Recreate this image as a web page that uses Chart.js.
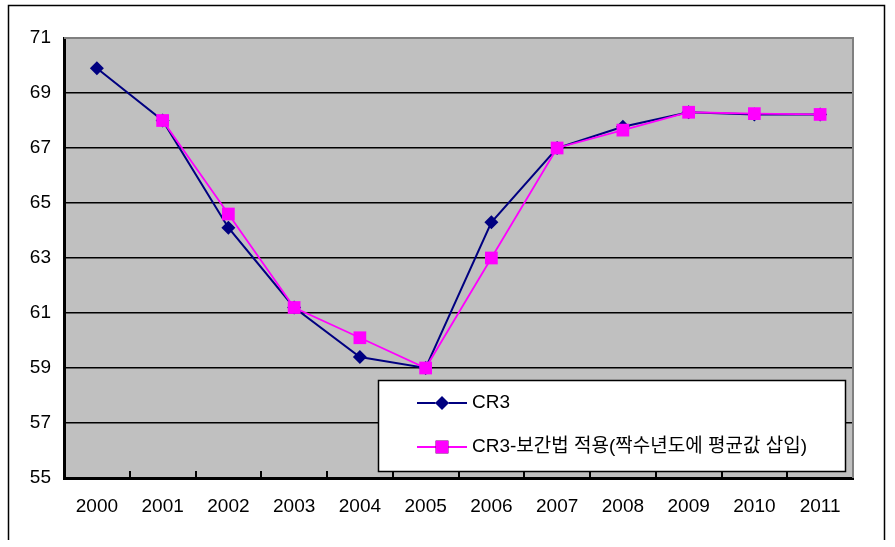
<!DOCTYPE html>
<html>
<head>
<meta charset="utf-8">
<script src="https://cdn.jsdelivr.net/npm/chart.js@4/dist/chart.umd.min.js"></script>
<style>
  html, body { margin: 0; padding: 0; background: #ffffff; }
  #wrap { position: relative; width: 895px; height: 547px; }
</style>
</head>
<body>
<div id="wrap"><canvas id="c" width="895" height="547"></canvas></div>
<script>
const years = ['2000','2001','2002','2003','2004','2005','2006','2007','2008','2009','2010','2011'];
const cr3 = [69.9, 68.0, 64.1, 61.2, 59.4, 59.0, 64.3, 67.0, 67.77, 68.3, 68.22, 68.22];
const cr3Interp = [null, 68.0, 64.6, 61.2, 60.1, 59.0, 63.0, 67.0, 67.65, 68.3, 68.25, 68.22];
const seriesNames = ['CR3', 'CR3-보간법 적용(짝수년도에 평균값 삽입)'];
const yMin = 55, yMax = 71, yStep = 2;

const FONT = "'Liberation Sans', Arial, 'Noto Sans CJK KR', sans-serif";

const framePlugin = {
  id: 'frame',
  beforeDraw(chart) {
    const {ctx, chartArea: a} = chart;
    ctx.save();
    ctx.fillStyle = '#C0C0C0';
    ctx.fillRect(a.left, a.top, a.right - a.left, a.bottom - a.top);
    ctx.strokeStyle = '#000';
    ctx.lineWidth = 1.5;
    ctx.beginPath();
    ctx.moveTo(8.5, 540);
    ctx.lineTo(8.5, 5.5);
    ctx.lineTo(884.5, 5.5);
    ctx.lineTo(884.5, 540);
    ctx.stroke();
    ctx.restore();
  },
  afterDraw(chart) {
    const {ctx, chartArea: a} = chart;
    const xs = chart.scales.x;
    ctx.save();
    ctx.strokeStyle = '#808080';
    ctx.lineWidth = 2;
    ctx.beginPath();
    ctx.moveTo(a.left, a.top);
    ctx.lineTo(a.right, a.top);
    ctx.lineTo(a.right, a.bottom);
    ctx.stroke();
    ctx.strokeStyle = '#000';
    ctx.lineWidth = 2;
    const n = years.length;
    for (let i = 1; i < n; i++) {
      const x = Math.round((xs.getPixelForTick(i - 1) + xs.getPixelForTick(i)) / 2);
      ctx.beginPath();
      ctx.moveTo(x, a.bottom);
      ctx.lineTo(x, a.bottom - 7);
      ctx.stroke();
    }
    const lx = a.left + 314, ly = a.top + 342, lw = 467, lh = 91;
    ctx.fillStyle = '#fff';
    ctx.fillRect(lx, ly, lw, lh);
    ctx.strokeStyle = '#000';
    ctx.lineWidth = 1.5;
    ctx.strokeRect(lx + 0.5, ly + 0.5, lw, lh);
    const rows = [ly + 23, ly + 67];
    chart.data.datasets.forEach((ds, i) => {
      const y = rows[i];
      ctx.strokeStyle = ds.borderColor;
      ctx.lineWidth = ds.borderWidth;
      ctx.beginPath();
      ctx.moveTo(lx + 39, y);
      ctx.lineTo(lx + 89, y);
      ctx.stroke();
      Chart.helpers.drawPoint(ctx, {pointStyle: ds.pointStyle, radius: ds.pointRadius, borderWidth: 0, rotation: 0}, lx + 64, y);
      ctx.fillStyle = ds.pointBackgroundColor;
      ctx.fill();
      ctx.fillStyle = '#000';
      ctx.font = '19px ' + FONT;
      ctx.textBaseline = 'middle';
      ctx.textAlign = 'left';
      ctx.fillText(ds.label, lx + 94, y);
    });
    ctx.restore();
  }
};

new Chart(document.getElementById('c'), {
  type: 'line',
  data: {
    labels: years,
    datasets: [
      {
        label: seriesNames[0],
        data: cr3,
        borderColor: '#000080',
        backgroundColor: '#000080',
        pointBackgroundColor: '#000080',
        pointBorderColor: '#000080',
        borderWidth: 2,
        pointStyle: 'rectRot',
        pointRadius: 7,
        pointBorderWidth: 0,
        tension: 0,
        order: 1
      },
      {
        label: seriesNames[1],
        data: cr3Interp,
        borderColor: '#FF00FF',
        backgroundColor: '#FF00FF',
        pointBackgroundColor: '#FF00FF',
        pointBorderColor: '#FF00FF',
        borderWidth: 1.8,
        pointStyle: 'rect',
        pointRadius: 9,
        pointBorderWidth: 0,
        tension: 0,
        spanGaps: false,
        order: 0
      }
    ]
  },
  options: {
    responsive: false,
    animation: false,
    devicePixelRatio: 1,
    layout: { padding: { left: 0, top: 38, right: 42, bottom: 0 } },
    plugins: { legend: { display: false }, tooltip: { enabled: false }, title: { display: false } },
    scales: {
      x: {
        type: 'category',
        offset: true,
        grid: { display: false, drawTicks: false },
        border: { display: true, color: '#000', width: 3 },
        ticks: { color: '#000', font: { family: FONT, size: 19 }, padding: 17, maxRotation: 0, autoSkip: false },
        afterFit(s) { s.height = 69; }
      },
      y: {
        min: yMin, max: yMax,
        grid: {
          drawTicks: false,
          color: (c) => (c.tick && c.tick.value === yMax) ? 'rgba(0,0,0,0)' : '#000',
          lineWidth: 1.6
        },
        border: { display: true, color: '#000', width: 3 },
        ticks: { stepSize: yStep, color: '#000', font: { family: FONT, size: 19 }, padding: 13 },
        afterFit(s) { s.width = 64; }
      }
    }
  },
  plugins: [framePlugin]
});
</script>
</body>
</html>
